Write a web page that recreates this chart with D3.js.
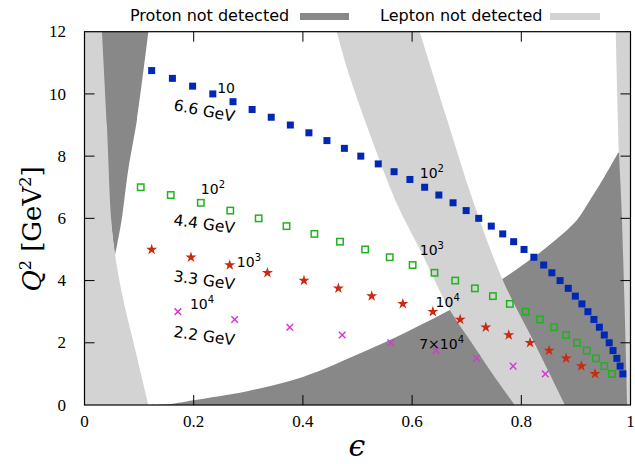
<!DOCTYPE html>
<html>
<head>
<meta charset="utf-8">
<script src="https://cdn.jsdelivr.net/npm/d3@7"></script>
<style>
  body { margin: 0; background: #fff; }
  svg { display: block; }
</style>
</head>
<body>
<svg id="canvas" width="635" height="464"></svg>
<script>
// kinematic settings: epsilon and Q^2 for each beam energy
const q66 = [10.75, 10.5, 10.25, 10, 9.75, 9.5, 9.25, 9, 8.75, 8.5, 8.25, 8, 7.75, 7.5, 7.25, 7, 6.75, 6.5, 6.25, 6,
  5.75, 5.5, 5.25, 5, 4.75, 4.5, 4.25, 4, 3.75, 3.5, 3.25, 3, 2.75, 2.5, 2.25, 2, 1.75, 1.5, 1.25, 1];
const eps66 = [0.123, 0.161, 0.198, 0.235, 0.272, 0.307, 0.342, 0.377, 0.411, 0.444, 0.476, 0.506, 0.538, 0.567,
  0.596, 0.623, 0.649, 0.675, 0.699, 0.722, 0.745, 0.766, 0.786, 0.805, 0.823, 0.841, 0.856, 0.871, 0.886, 0.899,
  0.911, 0.922, 0.933, 0.943, 0.952, 0.961, 0.968, 0.975, 0.981, 0.986];

const q44 = [7, 6.75, 6.5, 6.25, 6, 5.75, 5.5, 5.25, 5, 4.75, 4.5, 4.25, 4, 3.75, 3.5, 3.25, 3, 2.75, 2.5, 2.25,
  2, 1.75, 1.5, 1.25, 1];
const eps44 = [0.103, 0.158, 0.213, 0.267, 0.319, 0.370, 0.421, 0.468, 0.514, 0.559, 0.601, 0.641, 0.679, 0.715,
  0.748, 0.779, 0.808, 0.834, 0.860, 0.882, 0.902, 0.920, 0.937, 0.952, 0.966];

const q33 = [5, 4.75, 4.5, 4.25, 4, 3.75, 3.5, 3.25, 3, 2.75, 2.5, 2.25, 2, 1.75, 1.5, 1.25, 1];
const eps33 = [0.123, 0.195, 0.266, 0.335, 0.402, 0.465, 0.526, 0.583, 0.638, 0.688, 0.735, 0.777, 0.816, 0.851,
  0.882, 0.910, 0.935];

const q22 = [3, 2.75, 2.5, 2.25, 2, 1.75, 1.5, 1.25, 1];
const eps22 = [0.171, 0.275, 0.376, 0.472, 0.561, 0.644, 0.718, 0.785, 0.844];

// excluded regions: each outline is a list of edges of [epsilon, Q^2] points
const protonWedge = [
  [[0.028, 12], [0.117, 12]],
  [[0.117, 12], [0.096, 9.16], [0.080, 7.55], [0.068, 5.95], [0.056, 4.82]],
  [[0.056, 4.82], [0.045, 6.5], [0.028, 12]]
];
const protonLow = [
  [[0.117, 0], [0.157, 0.03], [0.199, 0.15], [0.300, 0.45], [0.400, 0.90], [0.505, 1.66], [0.590, 2.35],
    [0.669, 3.05], [0.766, 4.06], [0.821, 4.73], [0.862, 5.30], [0.902, 5.95], [0.927, 6.62], [0.952, 7.33],
    [0.977, 8.10]],
  [[0.977, 8.10], [1, 8.3], [1, 0]]
];
const leptonLeft = [
  [[0.032, 12], [0.041, 9], [0.049, 5.95], [0.056, 4.82], [0.071, 3.38], [0.093, 1.77], [0.117, 0]],
  [[0.117, 0], [0, 0], [0, 12]]
];
const leptonBand = [
  [[0.462, 12], [0.486, 10.54], [0.527, 8.5], [0.569, 6.59], [0.620, 4.8], [0.669, 3.05], [0.713, 1.9],
    [0.755, 0.80], [0.788, 0]],
  [[0.788, 0], [0.880, 0]],
  [[0.880, 0], [0.828, 1.86], [0.766, 4.02], [0.711, 6.59], [0.662, 9.3], [0.614, 12]]
];
const leptonRight = [
  [[0.973, 12], [0.979, 8.10], [0.983, 6.59], [0.989, 3.3], [0.994, 0]],
  [[0.994, 0], [1, 0], [1, 12]]
];

const xTicks = [0, 0.2, 0.4, 0.6, 0.8, 1];
const yTicks = [0, 2, 4, 6, 8, 10, 12];

const annotations = [
  { e: 0.243, q: 10.02, base: '10', sup: '' },
  { e: 0.213, q: 6.78, base: '10', sup: '2' },
  { e: 0.279, q: 4.43, base: '10', sup: '3' },
  { e: 0.193, q: 3.07, base: '10', sup: '4' },
  { e: 0.614, q: 7.31, base: '10', sup: '2' },
  { e: 0.614, q: 4.82, base: '10', sup: '3' },
  { e: 0.643, q: 3.14, base: '10', sup: '4' },
  { e: 0.613, q: 1.80, base: '7×10', sup: '4' }
];
const energyLabels = [
  { e: 0.162, q: 9.48, text: '6.6 GeV', angle: 11 },
  { e: 0.162, q: 5.79, text: '4.4 GeV', angle: 8 },
  { e: 0.162, q: 3.98, text: '3.3 GeV', angle: 8 },
  { e: 0.162, q: 2.19, text: '2.2 GeV', angle: 8 }
];

const canvas = d3.select('#canvas');

const x = d3.scaleLinear().domain([0, 1]).range([84.5, 630.5]);
const y = d3.scaleLinear().domain([0, 12]).range([405, 31.7]);

canvas.append('clipPath').attr('id', 'plot-clip')
  .append('rect')
  .attr('x', x(0)).attr('y', y(12))
  .attr('width', x(1) - x(0)).attr('height', y(0) - y(12));

const straight = d3.line().x((d) => x(d[0])).y((d) => y(d[1]));
const smooth = d3.line().x((d) => x(d[0])).y((d) => y(d[1])).curve(d3.curveCatmullRom.alpha(0.5));

// long edges are boundaries (smoothed), short ones run along the frame
const outline = (edges) => {
  return edges.map((pts, i) => {
    const s = (pts.length > 2 && (i < edges.length - 1 || edges.length === 3)) ? smooth(pts) : straight(pts);
    return i === 0 ? s : 'L' + s.slice(1);
  }).join('') + 'Z';
};

const regions = canvas.append('g').attr('clip-path', 'url(#plot-clip)');
const darkGrey = '#888888';
const lightGrey = '#d3d3d3';

[protonWedge, protonLow].forEach((shape) => {
  regions.append('path').attr('d', outline(shape)).attr('fill', darkGrey);
});
[leptonLeft, leptonBand, leptonRight].forEach((shape) => {
  regions.append('path').attr('d', outline(shape)).attr('fill', lightGrey);
});

// markers
const zipped = (eps, q) => eps.map((e, i) => [e, q[i]]);

canvas.append('g').selectAll('rect')
  .data(zipped(eps66, q66))
  .enter()
  .append('rect')
  .attr('x', (d) => x(d[0]) - 3.5)
  .attr('y', (d) => y(d[1]) - 3.5)
  .attr('width', 7).attr('height', 7)
  .attr('fill', '#0028b4');

canvas.append('g').selectAll('rect')
  .data(zipped(eps44, q44))
  .enter()
  .append('rect')
  .attr('x', (d) => x(d[0]) - 3.2)
  .attr('y', (d) => y(d[1]) - 3.2)
  .attr('width', 6.4).attr('height', 6.4)
  .attr('fill', 'none')
  .attr('stroke', '#1fb21f')
  .attr('stroke-width', 1.5);

canvas.append('g').selectAll('path')
  .data(zipped(eps33, q33))
  .enter()
  .append('path')
  .attr('d', d3.symbol(d3.symbolStar, 38))
  .attr('transform', (d) => 'translate(' + x(d[0]) + ',' + y(d[1]) + ')')
  .attr('fill', '#cc2a10');

canvas.append('g').selectAll('path')
  .data(zipped(eps22, q22))
  .enter()
  .append('path')
  .attr('d', d3.symbol(d3.symbolTimes, 30))
  .attr('transform', (d) => 'translate(' + x(d[0]) + ',' + y(d[1]) + ')')
  .attr('fill', 'none')
  .attr('stroke', '#d23cd2')
  .attr('stroke-width', 1.5);

// frame and ticks
const axes = canvas.append('g').attr('stroke', '#000');
axes.append('rect')
  .attr('x', x(0)).attr('y', y(12))
  .attr('width', x(1) - x(0)).attr('height', y(0) - y(12))
  .attr('fill', 'none').attr('stroke-width', 1.2);

xTicks.slice(1, -1).forEach((t) => {
  axes.append('line').attr('x1', x(t)).attr('x2', x(t)).attr('y1', y(0)).attr('y2', y(0) - 10);
  axes.append('line').attr('x1', x(t)).attr('x2', x(t)).attr('y1', y(12)).attr('y2', y(12) + 10);
});
yTicks.slice(1, -1).forEach((t) => {
  axes.append('line').attr('x1', x(0)).attr('x2', x(0) + 10).attr('y1', y(t)).attr('y2', y(t));
  axes.append('line').attr('x1', x(1)).attr('x2', x(1) - 10).attr('y1', y(t)).attr('y2', y(t));
});

const tickFont = 'Liberation Serif, serif';
canvas.append('g').selectAll('text')
  .data(xTicks)
  .enter()
  .append('text')
  .attr('x', (d) => x(d))
  .attr('y', 427)
  .attr('text-anchor', 'middle')
  .attr('font-family', tickFont)
  .attr('font-size', 17)
  .text((d) => d);

canvas.append('g').selectAll('text')
  .data(yTicks)
  .enter()
  .append('text')
  .attr('x', 66)
  .attr('y', (d) => y(d))
  .attr('dy', '0.33em')
  .attr('text-anchor', 'end')
  .attr('font-family', tickFont)
  .attr('font-size', 17)
  .text((d) => d);

// axis titles
canvas.append('text')
  .attr('x', 357)
  .attr('y', 456)
  .attr('text-anchor', 'middle')
  .attr('font-family', 'DejaVu Serif, serif')
  .attr('font-style', 'italic')
  .attr('font-size', 30)
  .text('ϵ');

const yTitle = canvas.append('text')
  .attr('transform', 'translate(41,229) rotate(-90)')
  .attr('text-anchor', 'middle')
  .attr('font-family', 'DejaVu Serif, serif')
  .attr('font-size', 26);
yTitle.append('tspan').attr('font-style', 'italic').text('Q');
yTitle.append('tspan').attr('font-size', 16).attr('dy', -10).text('2');
yTitle.append('tspan').attr('dy', 10).text(' [GeV');
yTitle.append('tspan').attr('font-size', 16).attr('dy', -10).text('2');
yTitle.append('tspan').attr('dy', 10).text(']');

// legend
const legendFont = 'DejaVu Sans, sans-serif';
canvas.append('text').attr('x', 130).attr('y', 21)
  .attr('font-family', legendFont).attr('font-size', 16).text('Proton not detected');
canvas.append('rect').attr('x', 300).attr('y', 13).attr('width', 49).attr('height', 7).attr('fill', darkGrey);
canvas.append('text').attr('x', 380).attr('y', 21)
  .attr('font-family', legendFont).attr('font-size', 16).text('Lepton not detected');
canvas.append('rect').attr('x', 550).attr('y', 13).attr('width', 50).attr('height', 7).attr('fill', lightGrey);

// annotations
annotations.forEach((a) => {
  const t = canvas.append('text')
    .attr('x', x(a.e))
    .attr('y', y(a.q))
    .attr('font-family', legendFont)
    .attr('font-size', 14);
  t.append('tspan').text(a.base);
  if (a.sup) {
    t.append('tspan').attr('font-size', 10).attr('dy', -6).text(a.sup);
  }
});

energyLabels.forEach((l) => {
  canvas.append('text')
    .attr('transform', 'translate(' + x(l.e) + ',' + y(l.q) + ') rotate(' + l.angle + ')')
    .attr('font-family', legendFont)
    .attr('font-size', 15.5)
    .text(l.text);
});
</script>
</body>
</html>
